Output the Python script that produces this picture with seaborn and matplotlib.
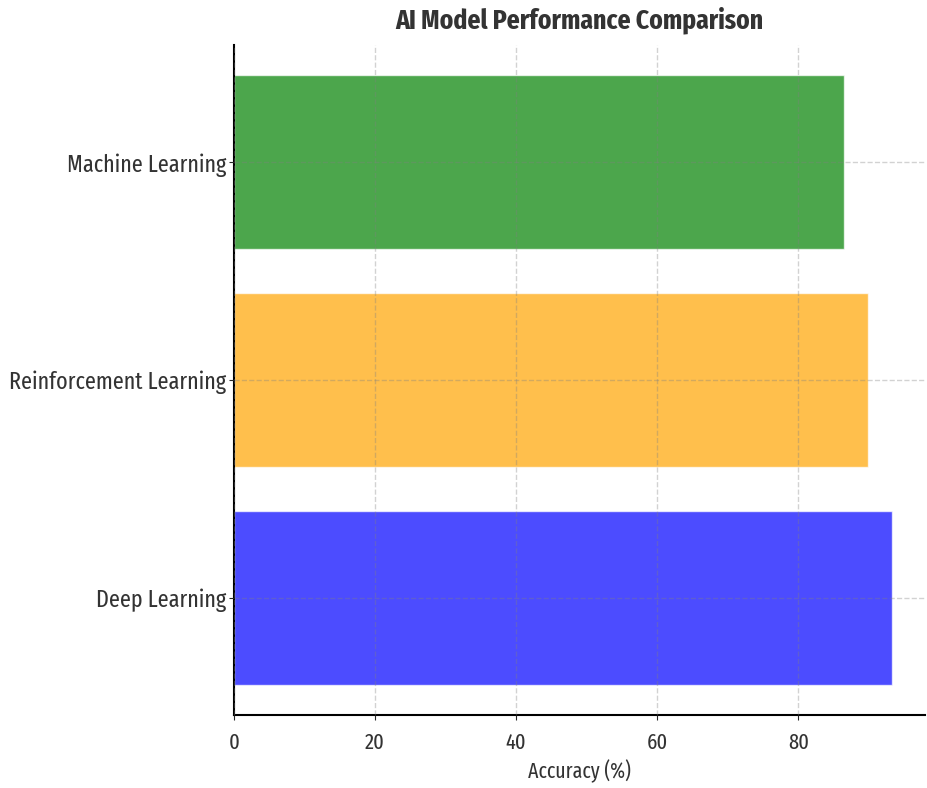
import matplotlib
matplotlib.use("Agg")
import matplotlib.pyplot as plt
import seaborn as sns
import pandas as pd

# Data (top to bottom as shown)
models = ["Machine Learning", "Reinforcement Learning", "Deep Learning"]
accuracy = [86.4, 89.9, 93.3]
colors = ["green", "orange", "blue"]

df = pd.DataFrame({"Model": models, "Accuracy": accuracy})

sns.set_style("ticks")
plt.rcParams['font.family'] = ['Fira Sans Extra Condensed', 'DejaVu Sans']

fig = plt.figure(figsize=(9.27, 7.88), dpi=100)
ax = fig.add_axes([0.2524, 0.0926, 0.7456, 0.8503])

sns.barplot(data=df, x="Accuracy", y="Model", hue="Model", order=models,
            palette=dict(zip(models, colors)), alpha=0.7, saturation=1,
            width=0.8, legend=False, ax=ax)
ax.set_ylim(len(models) - 1 + 0.54, -0.54)

ax.set_title("AI Model Performance Comparison", fontsize=20, fontweight="bold", pad=12,
             color="#333333")
ax.set_xlabel("Accuracy (%)", fontsize=15.5, labelpad=4, color="#333333")
ax.set_ylabel("")
ax.tick_params(axis="x", labelsize=16, labelcolor="#333333", pad=9)
ax.tick_params(axis="y", labelsize=17.3, labelcolor="#333333", pad=2)
ax.grid(True, linestyle="--", color="gray", alpha=0.35, linewidth=1)
ax.set_axisbelow(False)
sns.despine(ax=ax)
for s in ["left", "bottom"]:
    ax.spines[s].set_linewidth(1.5)
    ax.spines[s].set_color("black")

fig.savefig("out.png", dpi=100)
